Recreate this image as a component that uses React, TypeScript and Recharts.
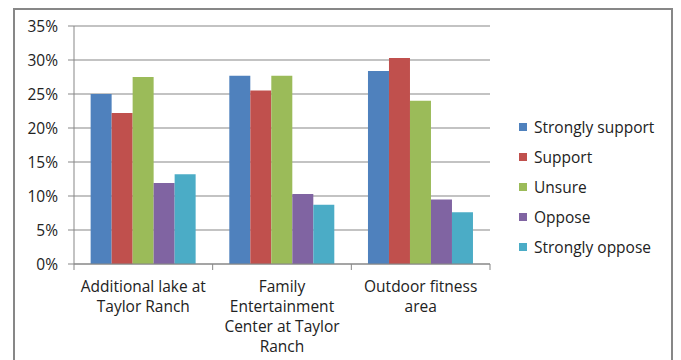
import { BarChart, Bar, XAxis, YAxis, CartesianGrid, Legend, Text } from 'recharts';

const categories = [
  'Additional lake at Taylor Ranch',
  'Family Entertainment Center at Taylor Ranch',
  'Outdoor fitness area',
];
const seriesNames = ['Strongly support', 'Support', 'Unsure', 'Oppose', 'Strongly oppose'];
const stronglySupport = [0.25, 0.277, 0.284];
const support = [0.222, 0.255, 0.303];
const unsure = [0.275, 0.277, 0.24];
const oppose = [0.119, 0.103, 0.095];
const stronglyOppose = [0.132, 0.087, 0.076];
const yTicks = [0, 0.05, 0.1, 0.15, 0.2, 0.25, 0.3, 0.35];

const colors = ['#4F81BD', '#C0504D', '#9BBB59', '#8064A2', '#4BACC6'];
const keys = ['s1', 's2', 's3', 's4', 's5'];

const data = categories.map((name, i) => ({
  name,
  s1: stronglySupport[i],
  s2: support[i],
  s3: unsure[i],
  s4: oppose[i],
  s5: stronglyOppose[i],
}));

const W = 681;
const H = 360;
const margin = { top: 26, right: 191, bottom: 0, left: 14 };
const yAxisWidth = 60;
const xAxisHeight = 96;
const plotWidth = W - margin.left - margin.right - yAxisWidth;
const plotBottom = H - margin.bottom - xAxisHeight;
const step = plotWidth / categories.length;

const gridColor = '#878787';
const font = '"Open Sans", sans-serif';
const labelStyle = { fontSize: 15.5, fontFamily: font };

// category label plus the tick marks sitting on the category boundaries
const CategoryTick = (props: any) => {
  const { x, payload, index } = props;
  const last = index === categories.length - 1;
  return (
    <g>
      <line x1={x - step / 2} x2={x - step / 2} y1={plotBottom} y2={plotBottom + 6} stroke={gridColor} />
      {last && (
        <line x1={x + step / 2} x2={x + step / 2} y1={plotBottom} y2={plotBottom + 6} stroke={gridColor} />
      )}
      <Text
        x={x}
        y={plotBottom + 17}
        width={132}
        textAnchor="middle"
        verticalAnchor="start"
        lineHeight={20}
        style={labelStyle}
        fontSize={15.5}
        fontFamily={font}
        fill="#222"
      >
        {payload.value}
      </Text>
    </g>
  );
};

const LegendList = () => (
  <div style={{ fontFamily: font, fontSize: 15.5, color: '#222' }}>
    {seriesNames.map((name, i) => (
      <div key={name} style={{ display: 'flex', alignItems: 'center', height: 30, whiteSpace: 'nowrap' }}>
        <span style={{ width: 8, height: 8, background: colors[i], marginRight: 7 }} />
        {name}
      </div>
    ))}
  </div>
);

export default function App() {
  return (
    <div style={{ position: 'absolute', left: 0, top: 0, width: W, height: H, overflow: 'hidden', background: '#fff' }}>
      <div
        style={{
          position: 'absolute',
          left: 13,
          top: 8,
          width: 660,
          height: 400,
          border: `2px solid ${gridColor}`,
          boxSizing: 'border-box',
        }}
      />
      <BarChart
        width={W}
        height={H}
        data={data}
        margin={margin}
        barCategoryGap="12%"
        barGap={0}
        style={{ position: 'absolute', left: 0, top: 0 }}
      >
        <CartesianGrid vertical={false} stroke={gridColor} />
        <XAxis
          dataKey="name"
          height={xAxisHeight}
          interval={0}
          tickLine={false}
          stroke={gridColor}
          tick={<CategoryTick />}
        />
        <YAxis
          width={yAxisWidth}
          domain={[0, 0.35]}
          ticks={yTicks}
          tickFormatter={(v: number) => `${Math.round(v * 100)}%`}
          stroke={gridColor}
          tickSize={6}
          tickMargin={10}
          tick={{ fill: '#222', fontSize: 15.5, fontFamily: font }}
          interval={0}
        />
        <Legend
          layout="horizontal"
          align="center"
          verticalAlign="middle"
          content={<LegendList />}
          wrapperStyle={{ left: 519, top: 112, width: 150 }}
        />
        {keys.map((k, i) => (
          <Bar key={k} dataKey={k} name={seriesNames[i]} fill={colors[i]} isAnimationActive={false} />
        ))}
      </BarChart>
    </div>
  );
}
